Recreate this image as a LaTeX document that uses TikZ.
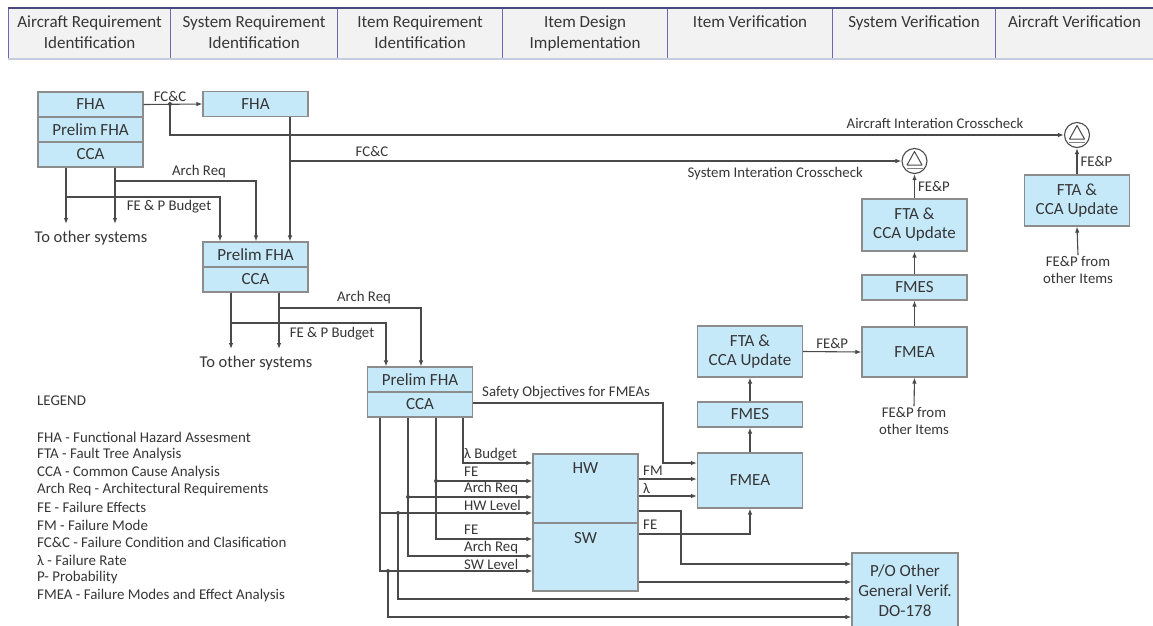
\documentclass[tikz,border=0pt]{standalone}
\usepackage{fontspec}
\setmainfont{Carlito}
\usetikzlibrary{arrows.meta,calc}
\definecolor{boxfill}{HTML}{C6E9FA}
\definecolor{boxline}{HTML}{8C8C8C}
\definecolor{lin}{HTML}{4A4A4A}
\definecolor{txt}{HTML}{363636}
\definecolor{hdrfill}{HTML}{F2F2F2}
\definecolor{hdrline}{HTML}{6A6AB4}
\definecolor{hdrbot}{HTML}{C8CCE0}
\begin{document}
\begin{tikzpicture}[x=1pt,y=-1pt,
  box/.style={draw=boxline, fill=boxfill, line width=1.1pt, inner sep=0pt, minimum width=105pt,
    font=\fontsize{17}{19}\selectfont, text=txt, align=center},
  boxtxt/.style={font=\fontsize{17}{19}\selectfont, text=txt, inner sep=0pt},
  lbl/.style={font=\fontsize{14.8}{17}\selectfont, text=txt, inner sep=1pt},
  hdrbox/.style={draw=hdrline, fill=hdrfill, line width=1.1pt, anchor=north west, minimum height=50pt, inner sep=0pt},
  hdrtxt/.style={font=\fontsize{17}{21}\selectfont, text=txt, align=center, anchor=north, inner sep=0pt},
  leg/.style={font=\fontsize{14.9}{17}\selectfont, text=txt, anchor=west, inner sep=0pt},
  conn/.style={draw=lin, line width=1.1pt},
  arr/.style={conn, -{Latex[length=6pt,width=4.5pt]}},
  jdot/.style={circle, fill=lin, inner sep=0pt, minimum size=4pt},
  xcheck/.style={circle, draw=lin, fill=white, line width=1.1pt, minimum size=25pt, inner sep=0pt}
]
\useasboundingbox[fill=white] (0,0) rectangle (1153,625);

% ---------- header ----------
\node[hdrbox, minimum width=162pt] (h1) at (8,8) {};
\node[hdrbox, minimum width=167pt] (h2) at (170,8) {};
\node[hdrbox, minimum width=165pt] (h3) at (337,8) {};
\node[hdrbox, minimum width=165pt] (h4) at (502,8) {};
\node[hdrbox, minimum width=165pt] (h5) at (667,8) {};
\node[hdrbox, minimum width=163pt] (h6) at (832,8) {};
\node[hdrbox, minimum width=170pt] (h7) at (995,8) {};
\draw[hdrbot, line width=1.5pt] (h1.south west) -- (h7.south east);
\draw[hdrline!70!black, line width=1.3pt] (h1.north west) -- (h7.north east);
\node[hdrtxt] (h1t) at ([yshift=-8pt]h1.north) {Aircraft Requirement\\Identification};
\node[hdrtxt] (h2t) at ([yshift=-8pt]h2.north) {System Requirement\\Identification};
\node[hdrtxt] (h3t) at ([yshift=-8pt]h3.north) {Item Requirement\\Identification};
\node[hdrtxt] (h4t) at ([yshift=-8pt]h4.north) {Item Design\\Implementation};
\node[hdrtxt] (h5t) at ([yshift=-8pt]h5.north) {Item Verification};
\node[hdrtxt] (h6t) at ([yshift=-8pt]h6.north) {System Verification};
\node[hdrtxt] (h7t) at ([xshift=-6pt,yshift=-8pt]h7.north) {Aircraft Verification};

% ---------- helper coordinates ----------
\foreach \v in {66,115,220,231,256,279,290,380,386,388,398,408,421,436,463}
  \coordinate (x\v) at (\v,0);
\foreach \v in {224,349,463,479,481,496,497,511,513,534,539,556,564,571,582,599,617}
  \coordinate (y\v) at (0,\v);

% ---------- boxes ----------
\node[box, minimum height=25pt] (acFHA) at (90.5,104.5) {FHA};
\node[box, minimum height=25pt] (acPre) at (90.5,129.5) {Prelim FHA};
\node[box, minimum height=25pt] (acCCA) at (90.5,154.5) {CCA};

\node[box, minimum height=25pt] (sysFHA) at (255.5,104) {FHA};
\node[box, minimum height=25pt] (sysPre) at (255.5,254.5) {Prelim FHA};
\node[box, minimum height=25pt] (sysCCA) at (255.5,279.5) {CCA};

\node[box, minimum height=25pt] (itPre) at (420,379.5) {Prelim FHA};
\node[box, minimum height=25pt] (itCCA) at (420,404.5) {CCA};

\node[box, minimum height=69pt] (hw) at (585.5,488.5) {};
\node[box, minimum height=68pt] (sw) at (585.5,557) {};
\node[boxtxt] (hwt) at (585.5,468) {HW};
\node[boxtxt] (swt) at (585.5,538) {SW};

\node[box, minimum height=55pt] (itFMEA) at (750,480.5) {FMEA};
\node[box, minimum height=25pt] (itFMES) at (750,414.5) {FMES};
\node[box, minimum height=51pt] (itFTA) at (750,351.5) {FTA \&\\CCA Update};

\node[box, minimum height=50pt] (sysFMEA) at (914.5,352) {FMEA};
\node[box, minimum height=25pt] (sysFMES) at (914.5,287.5) {FMES};
\node[box, minimum height=52pt] (sysFTA) at (914.5,225) {FTA \&\\CCA Update};

\node[box, minimum height=51pt] (acFTA) at (1077,200.5) {FTA \&\\CCA Update};

\node[box, minimum height=76pt, minimum width=106pt] (po) at (905,591) {P/O Other\\[1pt]General Verif.\\[1pt]DO-178};

% ---------- crosscheck symbols ----------
\node[xcheck] (sysX) at (914.5,161) {};
\node[xcheck] (acX) at (1077,135) {};
\foreach \c in {sysX,acX}{
  \draw[lin, line width=1pt, line join=round] ($(\c)+(0,-9.5)$) -- ($(\c)+(7.5,4)$) -- ($(\c)+(-7.5,4)$) -- cycle;
  \draw[gray, line width=1pt] ($(\c)+(-8,7.5)$) -- ($(\c)+(8,7.5)$);
}

% ---------- free text ----------
\node[lbl] (tosA) at (91,238) {\fontsize{16.5}{18}\selectfont To other systems};
\node[lbl] (tosB) at (256,363) {\fontsize{16.5}{18}\selectfont To other systems};
\node[lbl, align=center] (oth1) at (914,421) {FE\&P from\\other Items};
\node[lbl, align=center] (oth2) at (1078,270) {FE\&P from\\other Items};

% ---------- aircraft level ----------
\draw[arr] (acFHA.east) -- (sysFHA.west) node[lbl, pos=0.45, above=1pt] {FC\&C};
\node[jdot] (d1) at (170,104) {};
\draw[arr] (d1.center) |- (acX.west);
\node[lbl] at (935,123) {Aircraft Interation Crosscheck};

\draw[arr] (sysFHA.south -| x290) -- (sysPre.north -| x290);
\draw[arr] (x290 |- sysX) -- (sysX.west);
\node[lbl] at (372,151) {FC\&C};
\node[lbl, anchor=east] at (864,174) {System Interation Crosscheck};

\draw[arr] (acCCA.south -| x66) -- (x66 |- y224);
\draw[arr] (acCCA.south -| x115) -- (x115 |- y224);
\draw[arr] (66,197) -| (sysPre.north -| x220);
\draw[arr] (115,181) -| (sysPre.north -| x256);
\node[lbl] at (199,172) {Arch Req};
\node[lbl] at (169,207) {FE \& P Budget};

% ---------- system level ----------
\draw[arr] (sysCCA.south -| x231) -- (x231 |- y349);
\draw[arr] (sysCCA.south -| x279) -- (x279 |- y349);
\draw[arr] (231,323) -| (itPre.north -| x386);
\draw[arr] (279,308) -| (itPre.north -| x421);
\node[lbl] at (364,298) {Arch Req};
\node[lbl] at (332,334) {FE \& P Budget};

% ---------- item level ----------
\draw[arr] (itCCA.east |- 0,403) -| (663,463) -- (itFMEA.west |- y463);
\node[lbl, anchor=west] at (481,393) {Safety Objectives for FMEAs};

\draw[arr] (itCCA.south -| x463) |- (hw.west |- y463);
\draw[arr] (itCCA.south -| x436) |- (sw.west |- y539);
\draw[arr] (itCCA.south -| x408) |- (sw.west |- y556);
\draw[arr] (itCCA.south -| x380) |- (sw.west |- y571);
\node[jdot] (d2) at (436,481) {};
\node[jdot] (d3) at (408,497) {};
\node[jdot] (d4) at (398,513) {};
\node[jdot] (d5) at (388,571) {};
\draw[arr] (d2.center) -- (hw.west |- d2);
\draw[arr] (d3.center) -- (hw.west |- d3);
\draw[arr] (380,513) -- (hw.west |- y513);
\draw[arr] (d4.center) |- (po.west |- y599);
\draw[arr] (d5.center) |- (po.west |- y617);

\node[lbl, anchor=west] at (463,455) {λ Budget};
\node[lbl, anchor=west] at (463,472) {FE};
\node[lbl, anchor=west] at (463,489) {Arch Req};
\node[lbl, anchor=west] at (463,505) {HW Level};
\node[lbl, anchor=west] at (463,530) {FE};
\node[lbl, anchor=west] at (463,548) {Arch Req};
\node[lbl, anchor=west] at (463,564) {SW Level};

\draw[arr] (hw.east |- y479) -- (itFMEA.west |- y479);
\draw[arr] (hw.east |- y496) -- (itFMEA.west |- y496);
\node[lbl, anchor=west] at (642,471) {FM};
\node[lbl, anchor=west] at (642,488) {λ};
\draw[arr] (hw.east |- y511) -| (681,564) -- (po.west |- y564);
\draw[arr] (sw.east |- y534) -| (itFMEA.south);
\node[lbl, anchor=west] at (642,525) {FE};
\draw[arr] (sw.east |- y582) -- (po.west |- y582);

\draw[arr] (itFMEA.north) -- (itFMES.south);
\draw[arr] (itFMES.north) -- (itFTA.south);
\draw[arr] (itFTA.east) -- (sysFMEA.west) node[lbl, midway, above=2pt] {FE\&P};

% ---------- system verification ----------
\draw[arr] (oth1.north) -- (sysFMEA.south);
\draw[arr] (sysFMEA.north) -- (sysFMES.south);
\draw[arr] (sysFMES.north) -- (sysFTA.south);
\draw[arr] (sysFTA.north) -- (sysX.south) node[lbl, midway, right=2pt] {FE\&P};

% ---------- aircraft verification ----------
\draw[arr] (oth2.north) -- (acFTA.south);
\draw[arr] (acFTA.north) -- (acX.south) node[lbl, midway, right=2pt] {FE\&P};

% ---------- legend ----------
\node[leg] (lg0) at (37,401) {LEGEND};
\node[leg] (lg1) at (37,437) {FHA - Functional Hazard Assesment};
\node[leg] (lg2) at (37,454.6) {FTA - Fault Tree Analysis};
\node[leg] (lg3) at (37,472.2) {CCA - Common Cause Analysis};
\node[leg] (lg4) at (37,489.8) {Arch Req - Architectural Requirements};
\node[leg] (lg5) at (37,507.4) {FE - Failure Effects};
\node[leg] (lg6) at (37,525) {FM - Failure Mode};
\node[leg] (lg7) at (37,542.6) {FC\&C - Failure Condition and Clasification};
\node[leg] (lg8) at (37,560.2) {λ - Failure Rate};
\node[leg] (lg9) at (37,577.8) {P- Probability};
\node[leg] (lg10) at (37,595.4) {FMEA - Failure Modes and Effect Analysis};
\end{tikzpicture}
\end{document}
